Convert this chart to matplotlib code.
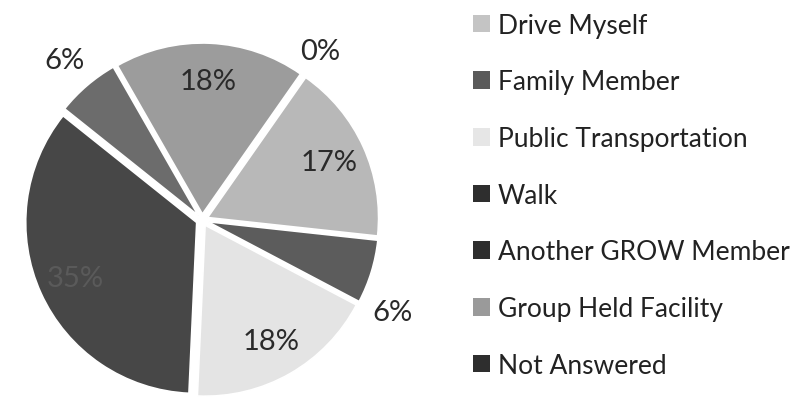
import numpy as np
import matplotlib
matplotlib.use('Agg')
import matplotlib.pyplot as plt
from matplotlib.patches import Patch

# ---- data ----
categories = ['Drive Myself', 'Family Member', 'Public Transportation', 'Walk',
              'Another GROW Member', 'Group Held Facility', 'Not Answered']
percent = [17, 6, 18, 35, 6, 18, 0]
slice_colors = ['#b8b8b8', '#5c5c5c', '#e4e4e4', '#474747', '#6c6c6c', '#9c9c9c', '#2e2e2e']
# the legend swatches print darker than the slices in the scan
legend_colors = ['#c4c4c4', '#5a5a5a', '#e6e6e6', '#2e2e2e', '#2e2e2e', '#9a9a9a', '#2e2e2e']

plt.rcParams['font.family'] = ['Lato', 'DejaVu Sans']

fig = plt.figure(figsize=(8.12, 4.02), dpi=100)
ax = fig.add_axes([0, 0, 0.505, 1])

wedges, texts, autotexts = ax.pie(
    percent, colors=slice_colors, startangle=55, counterclock=False,
    explode=[0.035] * len(percent), autopct='%d%%', pctdistance=0.78,
    wedgeprops=dict(edgecolor='white', linewidth=1.2),
    textprops=dict(fontsize=21, color='#2a2a2a'))

# small slices get their label outside the pie
# (Excel pushed the right-hand 6% label towards the end of its slice)
angle_shift = {'Family Member': 9}
for w, t, v, name in zip(wedges, autotexts, percent, categories):
    if v < 10:
        ang = (w.theta1 + w.theta2) / 2 - angle_shift.get(name, 0)
        ang = np.deg2rad(ang)
        cx, cy = w.center
        r = 1.17 if v == 0 else 1.2
        t.set_position((cx + r * np.cos(ang), cy + r * np.sin(ang)))
    if v > 30:
        t.set_color('#5a5a5a')

# slightly flattened pie: 178 px per unit across, 171 px per unit up,
# centre of the pie at (202, 221) px
ax.set_xlim(-202 / 178, 208 / 178)
ax.set_ylim(-181 / 171, 221 / 171)
ax.axis('off')

handles = [Patch(facecolor=c, edgecolor='none') for c in legend_colors]
fig.legend(handles, categories, loc='upper left', bbox_to_anchor=(0.553, 1.025),
           frameon=False, fontsize=19, labelspacing=1.2, handlelength=0.65,
           handleheight=0.65, handletextpad=0.3, labelcolor='#222222')

fig.savefig('out.png', dpi=100)
